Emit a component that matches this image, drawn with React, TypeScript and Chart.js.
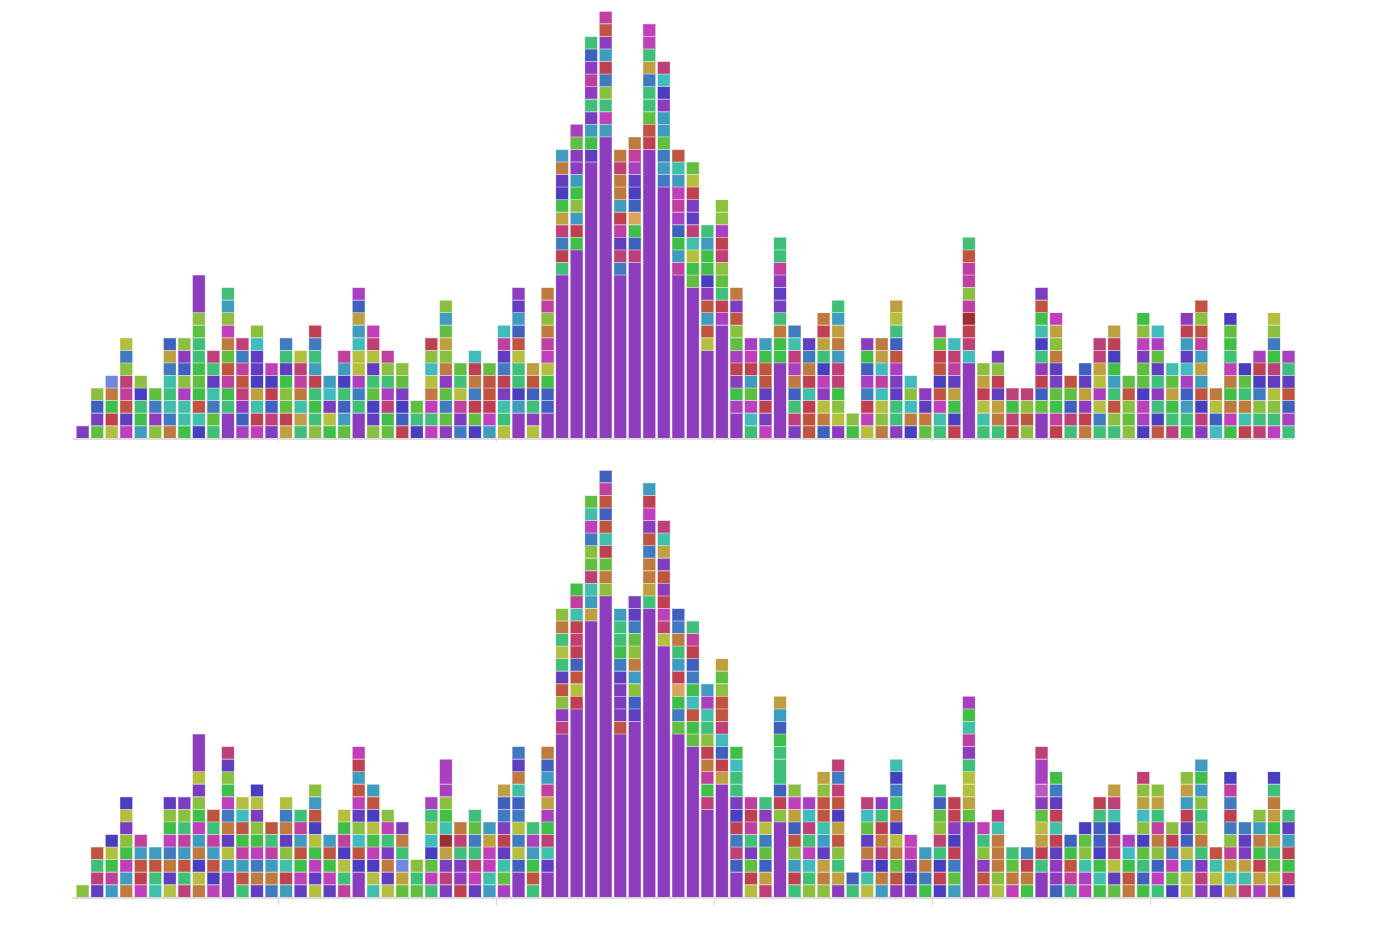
import React, { useEffect, useRef } from "react";
import { Chart, registerables } from "chart.js";

Chart.register(...registerables);

// Each column: cells bottom to top. Letter = colour group, optional number = cell span.
const topColumns: string[] = [
  "Q","HQLY","ODGNx","MVRJIYSO","CGEBY","YPSH","NSTETSAL","GTTUYLPY","BTRGHGEEHYP3","EHSTVEI",
  "P2 E G J R H N M Y C E","ULPIRJSI","MDTABVVKY","QILDBM","ADHYGVES","EATNJIO","YEGEDCESD","GOQKC","HCLEBCJ",
  "P2 E S U O O K C A L U","YVBHEVOIM","HGIUEYJ","DLBQHY","BEH","MEMNOKYD","PHSHPNYAHCY","SQJOEH","BHDSNDK","CMDRRH","OETQDSVJK",
  "P2 C B E E O R L C V P","OPELRA","P2 L L G O M J N Y J N","P13 E D S I A G B V N C","P15 G D C Y G C P P H U",
  "P22 V G C Q E P J P L E","P24 C M E Y S D C P R J","P13 S I V J D C N N I N","P14 I L G z L B V U J N",
  "P23 D R H E E S A E M M","P20 S C S H C C P B K I","P13 J C G L U J M C T R","P12 H G O T I V Q D O H",
  "P7 O R C R P B G G C E","P9 U D E H Y I D U Y Y","P2 U G P D U H Y R Q N","EKMHCDMU","MQDVRRGC",
  "P6 G G N E Q V P J E E","QIELNUITS","RRDTDNSV","LNOPMBEADN","POYGIICNACE","GY","OMDSULGP","NYOKJKAN",
  "PEEVQURLEOA","BNKYK","HNVP","ETMRBRDHJ","DBGAVJIK","P6 K I D w J Y J J R E","ETODAY","ENAVDYQ","DIGI","YRYI",
  "P2 H L D P E B T G R Q","DJGHQVNYAM","EILHR","NDPAVL","ESOUOAII","EYRECGBDA","YHYRH","BUMBHHQMYG","RBEPEVHUK",
  "IEGAHT","GECLUKVCDP","PIBRCACJRYR","KLON","GMNGNMEGHB","DTNEHB","IEYSBDU","MEYOVIGSYO","EULRVEU",
];

const bottomColumns: string[] = [
  "Y","VIER","CJGOB","NCMGYQOB","MDRCJ","TERC","OVNSMGYV","IERCJEYQ","NOBNCMGYQOP3","MBRCJER",
  "P2 C O V N S M G Y V I","ERCJGRKO","VNSMGYQOB","SNCJER","CDTYVNSO","VMGRCJE","OVMGOBRCY","VMGRC","JEOBJGO",
  "P2 B R K Y V M R C D M","TOBMGOBRC","OVNQEMY","HAxENQ","HEY","EMHBKYEU","QIQAwTGYU U2","DPQEIN","VMIESHE","CTMMAC","UHTVDQSLA",
  "P2 L O S O S L T N V S","ERGCUE","P2 V T I G U A J C L N","P13 I P Y R V E O E N Y","P15 D O R L D I D T J G",
  "P22 A C T I H Y S M T H","P24 Y N H D T R L R J L","P13 R Q Q Q V S G E E C","P14 V L Y C N Y H S V Q",
  "P23 E A N N S R P M D C","P20 O I M D P R Q A T I","P13 H S G z D C E N S L","P12 H G R K G S L D J E",
  "P7 I G J N D Y E T U C","P9 A D L K I R R Y H A","P2 L I S D B Q E E K G","ODHQEJDJ","IALHSOPE",
  "P6 Y D L E2 E G L C A","EDCYRLAMY","YEKMEIKU","YNAVCTRRYA","PAEYRABRISI","EL","OTPNVHKI","CNBINDEP",
  "PRHNOBNESBT","PBQMM","GSNC","BDBEIYHLE","CHSDBPDD","P6 H A O O E P J T G U","URPYEM","OYNNNTI","MNHE","GNDS",
  "P2 E D A O H P y U2 I","LPPVDTDVSG","EJRGL","MUTYHB","GTGBLLED","HVOIIBTIA","NRGKU","GLEHBYKAYI","EMLYNJEAY",
  "BHMSDY","OOCOLVDCAY","PIQENYEYCGC","VOTR","AKAJYSDSJB","ITAQVS","UADGNCY","NOHEAGANEB","BIGDCVE",
];

const palette: Record<string, [number, number, number]> = {
  P: [141, 60, 189], Q: [122, 62, 191], V: [96, 62, 191], B: [72, 62, 191], L: [64, 96, 191], S: [64, 122, 191],
  C: [64, 156, 191], K: [64, 188, 191], T: [64, 191, 170], E: [64, 191, 120], G: [64, 191, 72], H: [96, 191, 64],
  Y: [138, 191, 64], O: [180, 191, 64], A: [191, 160, 64], N: [191, 122, 64], R: [191, 85, 64], D: [191, 64, 80],
  I: [191, 64, 120], J: [191, 64, 159], M: [191, 64, 186], U: [168, 64, 191],
  x: [112, 136, 221], w: [154, 48, 48], z: [220, 163, 95], y: [184, 88, 192],
};

const categories: string[] = topColumns.map((_, i) => String(i));
const tickIndexes = [14, 29, 44, 59, 74];
const maxUnits = 34;

function parseColumn(c: string) {
  return [...c.matchAll(/([A-Za-z])(\d*)/g)].map((m) => ({ code: m[1], span: m[2] ? Number(m[2]) : 1 }));
}

function rgb(code: string, a: number) {
  const p = palette[code];
  return `rgba(${p[0]},${p[1]},${p[2]},${a})`;
}

function makeDatasets(columns: string[]) {
  const parsed = columns.map(parseColumn);
  const layers = Math.max(...parsed.map((c) => c.length));
  const out = [];
  for (let k = 0; k < layers; k++) {
    out.push({
      label: `layer ${k}`,
      data: parsed.map((c) => (c[k] ? c[k].span : null)),
      backgroundColor: parsed.map((c) => (c[k] ? rgb(c[k].code, 1) : "transparent")),
      borderColor: parsed.map((c) => (c[k] ? rgb(c[k].code, 0.9) : "transparent")),
      borderWidth: 0.4,
      borderSkipped: false as const,
      stack: "s",
      categoryPercentage: 1,
      barPercentage: 0.885,
    });
  }
  return out;
}

const axisLine = {
  id: "axisLine",
  beforeDatasetsDraw(chart: any) {
    const { ctx, chartArea } = chart;
    ctx.save();
    ctx.fillStyle = "#dddddd";
    ctx.fillRect(chartArea.left - 3, chartArea.bottom - 0.5, chartArea.right - chartArea.left + 1.5, 2.3);
    ctx.restore();
  },
};

function Panel({ columns, top, tickLen, tickColor }: { columns: string[]; top: number; tickLen: number; tickColor: string }) {
  const ref = useRef<HTMLCanvasElement | null>(null);
  useEffect(() => {
    if (!ref.current) return;
    const chart = new Chart(ref.current, {
      type: "bar",
      data: { labels: categories, datasets: makeDatasets(columns) as any },
      plugins: [axisLine],
      options: {
        responsive: false,
        animation: false,
        layout: { padding: { left: 75.4, right: 89.2, top: 11.3, bottom: 10 } },
        plugins: { legend: { display: false }, tooltip: { enabled: false }, title: { display: false } },
        scales: {
          x: {
            type: "category",
            stacked: true,
            afterFit: (s: any) => { s.height = 10.7; },
            ticks: { display: false, autoSkip: false },
            border: { display: false },
            grid: {
              offset: true,
              drawOnChartArea: false,
              drawTicks: true,
              tickLength: tickLen,
              tickWidth: 1,
              tickColor: (ctx: any) => (tickIndexes.includes(ctx.index) ? tickColor : "transparent"),
            },
          },
          y: { stacked: true, display: false, min: 0, max: maxUnits },
        },
      },
    });
    return () => chart.destroy();
  }, [columns, tickLen, tickColor]);
  return (
    <canvas
      ref={ref}
      width={1385}
      height={459}
      style={{ position: "absolute", left: 0, top, width: 1385, height: 459, display: "block" }}
    />
  );
}

export default function App() {
  return (
    <div>
      <Panel columns={topColumns} top={0} tickLen={4} tickColor="#e4e4e4" />
      <Panel columns={bottomColumns} top={459} tickLen={8} tickColor="#d8d8d8" />
    </div>
  );
}
